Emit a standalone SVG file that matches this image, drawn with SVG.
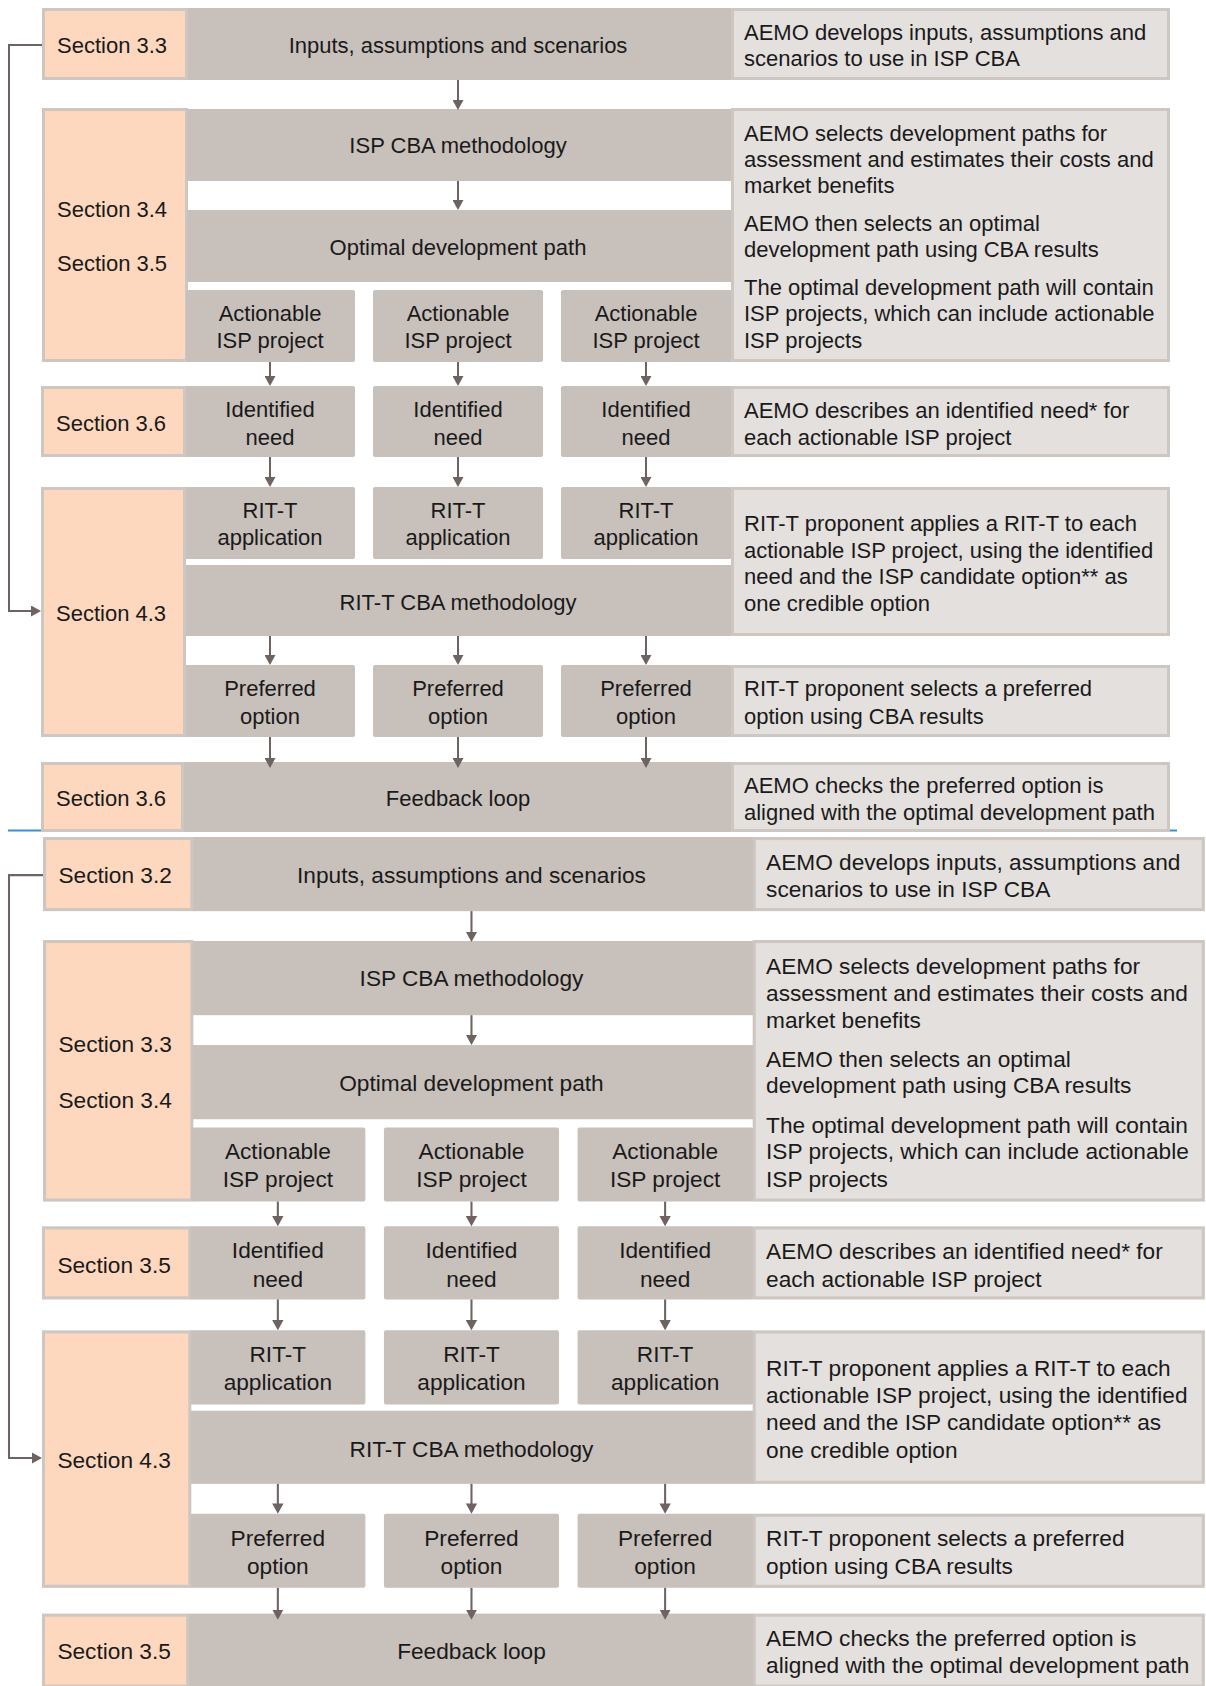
<svg xmlns="http://www.w3.org/2000/svg" width="1206" height="1686" viewBox="0 0 1206 1686">
<style>
.sec{fill:#fdd8be;stroke:#cdc6c1;stroke-width:3}
.bar{fill:#c8c0ba}
.box{fill:#c8c0ba}
.desc{fill:#e4e0dd;stroke:#cdc6c1;stroke-width:3}
text{font-family:"Liberation Sans",Arial,sans-serif;font-size:22px;fill:#1a1a1a}
.c{text-anchor:middle}
.conn{stroke:#6d6360;stroke-width:2;fill:none}
</style>
<defs>
<marker id="ah" viewBox="0 0 10 11" refX="6" refY="5.5" markerWidth="10" markerHeight="11" markerUnits="userSpaceOnUse" orient="auto">
<path d="M0,0 L10,5.5 L0,11 Z" fill="#6d6360"/>
</marker>
</defs>
<rect width="1206" height="1686" fill="#ffffff"/>
<line x1="8" y1="830.5" x2="1177" y2="830.5" stroke="#3a8fd0" stroke-width="2"/>

<g id="top">
  <g id="t-row1">
    <rect class="bar" x="187" y="8" width="545" height="72"/>
    <rect class="sec" x="43.5" y="9.5" width="143" height="69"/>
    <rect class="desc" x="732.5" y="9.5" width="436" height="69"/>
    <text x="57" y="53">Section 3.3</text>
    <text class="c" x="458" y="53">Inputs, assumptions and scenarios</text>
    <text x="744" y="40">AEMO develops inputs, assumptions and</text>
    <text x="744" y="66">scenarios to use in ISP CBA</text>
  </g>
  <g id="t-row2">
    <rect class="sec" x="43.5" y="109.5" width="143" height="251"/>
    <rect class="bar" x="187" y="109" width="545" height="72"/>
    <rect class="bar" x="187" y="210" width="545" height="72"/>
    <rect class="box" x="186" y="290" width="169" height="72" rx="2"/>
    <rect class="box" x="373" y="290" width="170" height="72" rx="2"/>
    <rect class="box" x="561" y="290" width="171" height="72" rx="2"/>
    <rect class="desc" x="732.5" y="109.5" width="436" height="251"/>
    <text x="57" y="217">Section 3.4</text>
    <text x="57" y="271">Section 3.5</text>
    <text class="c" x="458" y="153">ISP CBA methodology</text>
    <text class="c" x="458" y="255">Optimal development path</text>
    <text class="c" x="270" y="321">Actionable</text>
    <text class="c" x="270" y="348">ISP project</text>
    <text class="c" x="458" y="321">Actionable</text>
    <text class="c" x="458" y="348">ISP project</text>
    <text class="c" x="646" y="321">Actionable</text>
    <text class="c" x="646" y="348">ISP project</text>
    <text x="744" y="141">AEMO selects development paths for</text>
    <text x="744" y="167">assessment and estimates their costs and</text>
    <text x="744" y="193">market benefits</text>
    <text x="744" y="231">AEMO then selects an optimal</text>
    <text x="744" y="257">development path using CBA results</text>
    <text x="744" y="295">The optimal development path will contain</text>
    <text x="744" y="321">ISP projects, which can include actionable</text>
    <text x="744" y="348">ISP projects</text>
  </g>
  <g id="t-row3">
    <rect class="box" x="184" y="386" width="171" height="71" rx="2"/>
    <rect class="box" x="373" y="386" width="170" height="71" rx="2"/>
    <rect class="box" x="561" y="386" width="171" height="71" rx="2"/>
    <rect class="sec" x="42.5" y="387.5" width="142" height="68"/>
    <rect class="desc" x="732.5" y="387.5" width="436" height="68"/>
    <text x="56" y="431">Section 3.6</text>
    <text class="c" x="270" y="417">Identified</text>
    <text class="c" x="270" y="445">need</text>
    <text class="c" x="458" y="417">Identified</text>
    <text class="c" x="458" y="445">need</text>
    <text class="c" x="646" y="417">Identified</text>
    <text class="c" x="646" y="445">need</text>
    <text x="744" y="418">AEMO describes an identified need* for</text>
    <text x="744" y="445">each actionable ISP project</text>
  </g>
  <g id="t-row4">
    <rect class="box" x="184" y="487" width="171" height="72" rx="2"/>
    <rect class="box" x="373" y="487" width="170" height="72" rx="2"/>
    <rect class="box" x="561" y="487" width="171" height="72" rx="2"/>
    <rect class="bar" x="184" y="565" width="548" height="71"/>
    <rect class="box" x="184" y="665" width="171" height="72" rx="2"/>
    <rect class="box" x="373" y="665" width="170" height="72" rx="2"/>
    <rect class="box" x="561" y="665" width="171" height="72" rx="2"/>
    <rect class="sec" x="42.5" y="488.5" width="142" height="247"/>
    <rect class="desc" x="732.5" y="488.5" width="436" height="146"/>
    <rect class="desc" x="732.5" y="666.5" width="436" height="69"/>
    <text x="56" y="621">Section 4.3</text>
    <text class="c" x="270" y="518">RIT-T</text>
    <text class="c" x="270" y="545">application</text>
    <text class="c" x="458" y="518">RIT-T</text>
    <text class="c" x="458" y="545">application</text>
    <text class="c" x="646" y="518">RIT-T</text>
    <text class="c" x="646" y="545">application</text>
    <text class="c" x="458" y="610">RIT-T CBA methodology</text>
    <text class="c" x="270" y="696">Preferred</text>
    <text class="c" x="270" y="724">option</text>
    <text class="c" x="458" y="696">Preferred</text>
    <text class="c" x="458" y="724">option</text>
    <text class="c" x="646" y="696">Preferred</text>
    <text class="c" x="646" y="724">option</text>
    <text x="744" y="531">RIT-T proponent applies a RIT-T to each</text>
    <text x="744" y="558">actionable ISP project, using the identified</text>
    <text x="744" y="584">need and the ISP candidate option** as</text>
    <text x="744" y="611">one credible option</text>
    <text x="744" y="696">RIT-T proponent selects a preferred</text>
    <text x="744" y="724">option using CBA results</text>
  </g>
  <g id="t-row5">
    <rect class="bar" x="183" y="762" width="549" height="70"/>
    <rect class="sec" x="42.5" y="763.5" width="140" height="67"/>
    <rect class="desc" x="732.5" y="763.5" width="436" height="67"/>
    <text x="56" y="806">Section 3.6</text>
    <text class="c" x="458" y="806">Feedback loop</text>
    <text x="744" y="793">AEMO checks the preferred option is</text>
    <text x="744" y="820">aligned with the optimal development path</text>
  </g>
  <g id="t-connectors" class="conn" marker-end="url(#ah)">
    <line x1="458" y1="80" x2="458" y2="106"/>
    <line x1="458" y1="181" x2="458" y2="206"/>
    <line x1="270" y1="362" x2="270" y2="382"/>
    <line x1="458" y1="362" x2="458" y2="382"/>
    <line x1="646" y1="362" x2="646" y2="382"/>
    <line x1="270" y1="457" x2="270" y2="483"/>
    <line x1="458" y1="457" x2="458" y2="483"/>
    <line x1="646" y1="457" x2="646" y2="483"/>
    <line x1="270" y1="636" x2="270" y2="661"/>
    <line x1="458" y1="636" x2="458" y2="661"/>
    <line x1="646" y1="636" x2="646" y2="661"/>
    <line x1="270" y1="737" x2="270" y2="764"/>
    <line x1="458" y1="737" x2="458" y2="764"/>
    <line x1="646" y1="737" x2="646" y2="764"/>
    <path d="M42,45 H9 V611 H37"/>
  </g>
</g>

<g id="bottom" transform="translate(-0.26 828.76) scale(1.03)">
  <g id="b-row1">
    <rect class="bar" x="187" y="8" width="545" height="72"/>
    <rect class="sec" x="43.5" y="9.5" width="143" height="69"/>
    <rect class="desc" x="732.5" y="9.5" width="436" height="69"/>
    <text x="57" y="53">Section 3.2</text>
    <text class="c" x="458" y="53">Inputs, assumptions and scenarios</text>
    <text x="744" y="40">AEMO develops inputs, assumptions and</text>
    <text x="744" y="66">scenarios to use in ISP CBA</text>
  </g>
  <g id="b-row2">
    <rect class="sec" x="43.5" y="109.5" width="143" height="251"/>
    <rect class="bar" x="187" y="109" width="545" height="72"/>
    <rect class="bar" x="187" y="210" width="545" height="72"/>
    <rect class="box" x="186" y="290" width="169" height="72" rx="2"/>
    <rect class="box" x="373" y="290" width="170" height="72" rx="2"/>
    <rect class="box" x="561" y="290" width="171" height="72" rx="2"/>
    <rect class="desc" x="732.5" y="109.5" width="436" height="251"/>
    <text x="57" y="217">Section 3.3</text>
    <text x="57" y="271">Section 3.4</text>
    <text class="c" x="458" y="153">ISP CBA methodology</text>
    <text class="c" x="458" y="255">Optimal development path</text>
    <text class="c" x="270" y="321">Actionable</text>
    <text class="c" x="270" y="348">ISP project</text>
    <text class="c" x="458" y="321">Actionable</text>
    <text class="c" x="458" y="348">ISP project</text>
    <text class="c" x="646" y="321">Actionable</text>
    <text class="c" x="646" y="348">ISP project</text>
    <text x="744" y="141">AEMO selects development paths for</text>
    <text x="744" y="167">assessment and estimates their costs and</text>
    <text x="744" y="193">market benefits</text>
    <text x="744" y="231">AEMO then selects an optimal</text>
    <text x="744" y="257">development path using CBA results</text>
    <text x="744" y="295">The optimal development path will contain</text>
    <text x="744" y="321">ISP projects, which can include actionable</text>
    <text x="744" y="348">ISP projects</text>
  </g>
  <g id="b-row3">
    <rect class="box" x="184" y="386" width="171" height="71" rx="2"/>
    <rect class="box" x="373" y="386" width="170" height="71" rx="2"/>
    <rect class="box" x="561" y="386" width="171" height="71" rx="2"/>
    <rect class="sec" x="42.5" y="387.5" width="142" height="68"/>
    <rect class="desc" x="732.5" y="387.5" width="436" height="68"/>
    <text x="56" y="431">Section 3.5</text>
    <text class="c" x="270" y="417">Identified</text>
    <text class="c" x="270" y="445">need</text>
    <text class="c" x="458" y="417">Identified</text>
    <text class="c" x="458" y="445">need</text>
    <text class="c" x="646" y="417">Identified</text>
    <text class="c" x="646" y="445">need</text>
    <text x="744" y="418">AEMO describes an identified need* for</text>
    <text x="744" y="445">each actionable ISP project</text>
  </g>
  <g id="b-row4">
    <rect class="box" x="184" y="487" width="171" height="72" rx="2"/>
    <rect class="box" x="373" y="487" width="170" height="72" rx="2"/>
    <rect class="box" x="561" y="487" width="171" height="72" rx="2"/>
    <rect class="bar" x="184" y="565" width="548" height="71"/>
    <rect class="box" x="184" y="665" width="171" height="72" rx="2"/>
    <rect class="box" x="373" y="665" width="170" height="72" rx="2"/>
    <rect class="box" x="561" y="665" width="171" height="72" rx="2"/>
    <rect class="sec" x="42.5" y="488.5" width="142" height="247"/>
    <rect class="desc" x="732.5" y="488.5" width="436" height="146"/>
    <rect class="desc" x="732.5" y="666.5" width="436" height="69"/>
    <text x="56" y="621">Section 4.3</text>
    <text class="c" x="270" y="518">RIT-T</text>
    <text class="c" x="270" y="545">application</text>
    <text class="c" x="458" y="518">RIT-T</text>
    <text class="c" x="458" y="545">application</text>
    <text class="c" x="646" y="518">RIT-T</text>
    <text class="c" x="646" y="545">application</text>
    <text class="c" x="458" y="610">RIT-T CBA methodology</text>
    <text class="c" x="270" y="696">Preferred</text>
    <text class="c" x="270" y="724">option</text>
    <text class="c" x="458" y="696">Preferred</text>
    <text class="c" x="458" y="724">option</text>
    <text class="c" x="646" y="696">Preferred</text>
    <text class="c" x="646" y="724">option</text>
    <text x="744" y="531">RIT-T proponent applies a RIT-T to each</text>
    <text x="744" y="558">actionable ISP project, using the identified</text>
    <text x="744" y="584">need and the ISP candidate option** as</text>
    <text x="744" y="611">one credible option</text>
    <text x="744" y="696">RIT-T proponent selects a preferred</text>
    <text x="744" y="724">option using CBA results</text>
  </g>
  <g id="b-row5">
    <rect class="bar" x="183" y="762" width="549" height="72"/>
    <rect class="sec" x="42.5" y="763.5" width="140" height="69"/>
    <rect class="desc" x="732.5" y="763.5" width="436" height="69"/>
    <text x="56" y="806">Section 3.5</text>
    <text class="c" x="458" y="806">Feedback loop</text>
    <text x="744" y="793">AEMO checks the preferred option is</text>
    <text x="744" y="820">aligned with the optimal development path</text>
  </g>
  <g id="b-connectors" class="conn" marker-end="url(#ah)">
    <line x1="458" y1="80" x2="458" y2="106"/>
    <line x1="458" y1="181" x2="458" y2="206"/>
    <line x1="270" y1="362" x2="270" y2="382"/>
    <line x1="458" y1="362" x2="458" y2="382"/>
    <line x1="646" y1="362" x2="646" y2="382"/>
    <line x1="270" y1="457" x2="270" y2="483"/>
    <line x1="458" y1="457" x2="458" y2="483"/>
    <line x1="646" y1="457" x2="646" y2="483"/>
    <line x1="270" y1="636" x2="270" y2="661"/>
    <line x1="458" y1="636" x2="458" y2="661"/>
    <line x1="646" y1="636" x2="646" y2="661"/>
    <line x1="270" y1="737" x2="270" y2="764"/>
    <line x1="458" y1="737" x2="458" y2="764"/>
    <line x1="646" y1="737" x2="646" y2="764"/>
    <path d="M42,45 H9 V611 H37"/>
  </g>
</g>
</svg>
